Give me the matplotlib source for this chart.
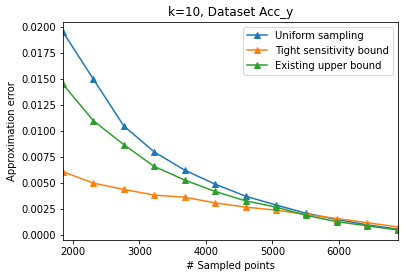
import matplotlib
matplotlib.use("Agg")
import matplotlib.pyplot as plt

samples = [1850, 2308, 2766, 3224, 3682, 4140, 4598, 5056, 5514, 5972, 6430, 6888]
uniform = [0.01952, 0.0150, 0.01050, 0.0080, 0.00625, 0.0049, 0.00375, 0.0029, 0.0021, 0.00150, 0.00100, 0.00058]
tight = [0.0061, 0.0050, 0.0044, 0.00385, 0.00365, 0.0031, 0.0027, 0.0024, 0.0020, 0.0016, 0.0012, 0.0008]
existing = [0.0145, 0.0110, 0.0087, 0.0066, 0.0053, 0.0042, 0.0033, 0.0027, 0.0019, 0.0013, 0.0009, 0.0005]

fig = plt.figure(figsize=(408/72, 278/72), dpi=72)
ax = fig.add_axes([0.154, 0.137, 0.821, 0.784])
ax.plot(samples, uniform, marker='^', label='Uniform sampling')
ax.plot(samples, tight, marker='^', label='Tight sensitivity bound')
ax.plot(samples, existing, marker='^', label='Existing upper bound')
ax.set_xlim(samples[0], samples[-1])
ax.set_xticks([2000, 3000, 4000, 5000, 6000])
ax.set_yticks([0.0, 0.0025, 0.005, 0.0075, 0.01, 0.0125, 0.015, 0.0175, 0.02])
ax.set_xlabel('# Sampled points')
ax.set_ylabel('Approximation error')
ax.set_title('k=10, Dataset Acc_y')
ax.legend(loc='upper right')
fig.savefig('out.png', dpi=72)
